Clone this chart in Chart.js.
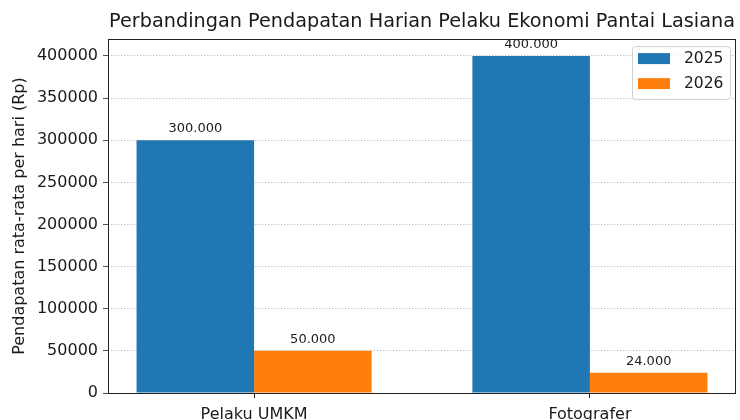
<!DOCTYPE html>
<html>
<head>
<meta charset="utf-8">
<script src="https://cdn.jsdelivr.net/npm/chart.js@4.4.0/dist/chart.umd.min.js"></script>
<style>
  html, body { margin: 0; padding: 0; overflow: hidden; background: #fff; }
</style>
</head>
<body>
<canvas id="incomeChart" width="740" height="440"></canvas>
<script>
const categories = ['Pelaku UMKM', 'Fotografer'];
const seriesLabels = ['2025', '2026'];
const values2025 = [300000, 400000];
const values2026 = [50000, 24000];
const yTicks = [0, 50000, 100000, 150000, 200000, 250000, 300000, 350000, 400000];
const seriesColors = ['#1f77b4', '#ff7f0e'];

const FONT = "'DejaVu Sans', sans-serif";
const TEXT = '#1a1a1a';

function formatRp(v) {
    return String(v).replace(/\B(?=(\d{3})+(?!\d))/g, '.');
}

// bar labels above each bar, like bar_label
const barLabels = {
    id: 'barLabels',
    afterDraw(chart) {
        const ctx = chart.ctx;
        ctx.save();
        ctx.font = '13px ' + FONT;
        ctx.fillStyle = TEXT;
        ctx.textAlign = 'center';
        ctx.textBaseline = 'alphabetic';
        chart.data.datasets.forEach((ds, i) => {
            chart.getDatasetMeta(i).data.forEach((bar, j) => {
                ctx.fillText(formatRp(ds.data[j].y), bar.x, bar.y - 8);
            });
        });
        ctx.restore();
    }
};

// box around the plot area
const frame = {
    id: 'frame',
    afterDatasetsDraw(chart) {
        const a = chart.chartArea;
        const ctx = chart.ctx;
        ctx.save();
        ctx.strokeStyle = '#222';
        ctx.lineWidth = 1;
        ctx.strokeRect(Math.round(a.left) + 0.5, Math.round(a.top) + 0.5,
            Math.round(a.right - a.left) - 1, Math.round(a.bottom - a.top));
        ctx.restore();
    }
};

// legend inside the upper right corner
const innerLegend = {
    id: 'innerLegend',
    afterDraw(chart) {
        const a = chart.chartArea;
        const ctx = chart.ctx;
        const w = 98, h = 53;
        const x = a.right - 6 - w;
        const y = a.top + 7;
        ctx.save();
        ctx.fillStyle = 'rgba(255,255,255,0.8)';
        ctx.strokeStyle = '#d0d0d0';
        ctx.lineWidth = 1;
        ctx.beginPath();
        ctx.roundRect(x + 0.5, y + 0.5, w, h, 3);
        ctx.fill();
        ctx.stroke();
        ctx.font = '15.5px ' + FONT;
        ctx.textBaseline = 'middle';
        chart.data.datasets.forEach((ds, i) => {
            const ry = y + 7 + i * 25;
            ctx.fillStyle = ds.backgroundColor;
            ctx.fillRect(x + 6, ry, 32, 11);
            ctx.fillStyle = TEXT;
            ctx.fillText(ds.label, x + 52, ry + 6);
        });
        ctx.restore();
    }
};

const ctx = document.getElementById('incomeChart').getContext('2d');
const incomeChart = new Chart(ctx, {
    type: 'bar',
    data: {
        datasets: [{
            label: seriesLabels[0],
            data: values2025.map((v, i) => ({ x: i, y: v })),
            backgroundColor: seriesColors[0],
            borderWidth: 0
        }, {
            label: seriesLabels[1],
            data: values2026.map((v, i) => ({ x: i, y: v })),
            backgroundColor: seriesColors[1],
            borderWidth: 0
        }]
    },
    options: {
        responsive: false,
        animation: false,
        categoryPercentage: 0.7,
        barPercentage: 1.0,
        layout: { padding: { left: 0, right: 4, top: 0, bottom: 0 } },
        plugins: {
            legend: { display: false },
            tooltip: { enabled: false },
            title: {
                display: true,
                fullSize: false,
                text: 'Perbandingan Pendapatan Harian Pelaku Ekonomi Pantai Lasiana',
                color: TEXT,
                font: { family: FONT, size: 19.25, weight: 'normal' },
                padding: { top: 10, bottom: 6 }
            }
        },
        scales: {
            x: {
                type: 'linear',
                min: -0.435,
                max: 1.435,
                offset: false,
                afterBuildTicks: (scale) => {
                    scale.ticks = categories.map((c, i) => ({ value: i }));
                },
                afterFit: (scale) => { scale.height = 47; },
                ticks: {
                    autoSkip: false,
                    maxRotation: 0,
                    padding: 7,
                    color: TEXT,
                    font: { family: FONT, size: 16 },
                    callback: (v) => categories[v]
                },
                grid: {
                    offset: false,
                    drawOnChartArea: false,
                    drawTicks: true,
                    tickLength: 5,
                    tickColor: '#222'
                },
                border: { display: false }
            },
            y: {
                min: 0,
                max: 420000,
                z: 1,
                afterBuildTicks: (scale) => {
                    scale.ticks = yTicks.map(v => ({ value: v }));
                },
                afterFit: (scale) => { scale.width = 108; },
                ticks: {
                    padding: 5,
                    color: TEXT,
                    font: { family: FONT, size: 16 },
                    callback: (v) => String(v)
                },
                grid: {
                    color: 'rgba(150,150,150,0.85)',
                    lineWidth: 0.8,
                    tickLength: 5,
                    tickColor: '#222',
                    tickBorderDash: []
                },
                border: { display: false, dash: [1.2, 2] },
                title: {
                    display: true,
                    text: 'Pendapatan rata-rata per hari (Rp)',
                    color: TEXT,
                    font: { family: FONT, size: 16 },
                    padding: { top: 10, bottom: 0 }
                }
            }
        }
    },
    plugins: [barLabels, frame, innerLegend]
});
</script>
</body>
</html>
